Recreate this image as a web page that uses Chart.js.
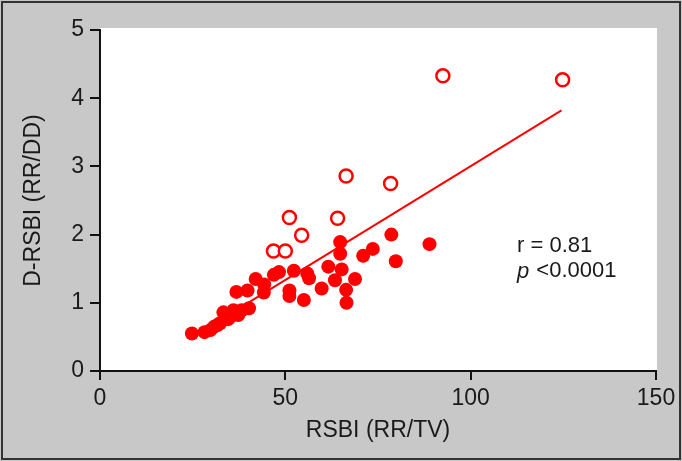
<!DOCTYPE html>
<html>
<head>
<meta charset="utf-8">
<script src="https://cdn.jsdelivr.net/npm/chart.js@4"></script>
<style>
html,body{margin:0;padding:0;background:#c8c8c8;}
#wrap{width:682px;height:461px;position:relative;}
</style>
</head>
<body>
<div id="wrap"><canvas id="c" width="682" height="461"></canvas></div>
<script>
// Filled points (RSBI, D-RSBI)
const filledX = [24.8,28.2,29.8,30.8,31.6,32.4,33.3,34.6,35.2,36.0,37.3,38.2,40.2,36.8,39.8,42.0,44.2,44.3,46.9,48.3,52.3,51.1,51.1,55.0,55.9,56.4,59.8,61.6,63.4,64.8,64.8,65.2,66.4,66.5,68.8,71.0,73.6,78.6,79.8,88.9];
const filledY = [0.55,0.57,0.60,0.65,0.67,0.70,0.86,0.76,0.80,0.89,0.82,0.89,0.92,1.16,1.18,1.35,1.15,1.27,1.41,1.45,1.47,1.18,1.10,1.04,1.43,1.36,1.21,1.53,1.33,1.89,1.72,1.49,1.19,1.00,1.35,1.69,1.79,2.00,1.61,1.86];
// Open points
const openX = [92.5,124.8,66.4,78.4,51.1,64.1,54.4,46.8,50.0];
const openY = [4.33,4.27,2.86,2.75,2.25,2.24,1.99,1.76,1.76];
// Regression line endpoints
const lineX = [25,124.5];
const lineY = [0.50,3.82];
const xTicks = [0,50,100,150];
const yTicks = [0,1,2,3,4,5];
const annotLines = ["r = 0.81", "<0.0001"];

const toPts = (xs, ys) => xs.map((x,i)=>({x:x, y:ys[i]}));
const FONT = "'Liberation Sans', Arial, sans-serif";
const RED = "#ff0000";

const bgPlugin = {
  id:'bg',
  beforeDraw(chart){
    const {ctx, chartArea:a} = chart;
    ctx.save();
    ctx.fillStyle = '#c8c8c8';
    ctx.fillRect(0,0,chart.width,chart.height);
    ctx.fillStyle = '#ffffff';
    ctx.fillRect(a.left, a.top-2, a.right-a.left+1, a.bottom-a.top+2);
    ctx.strokeStyle = '#333333';
    ctx.lineWidth = 2;
    ctx.strokeRect(2,2,chart.width-4,chart.height-4);
    ctx.restore();
  },
  afterDraw(chart){
    const {ctx} = chart;
    const xs = chart.scales.x, ys = chart.scales.y;
    const px = xs.getPixelForValue(112.5);
    ctx.save();
    ctx.fillStyle = '#1a1a1a';
    ctx.textBaseline = 'middle';
    ctx.textAlign = 'left';
    ctx.font = "22px " + FONT;
    ctx.fillText(annotLines[0], px, ys.getPixelForValue(1.83));
    ctx.font = "italic 22px " + FONT;
    ctx.fillText("p", px, ys.getPixelForValue(1.46));
    const w = ctx.measureText("p ").width;
    ctx.font = "22px " + FONT;
    ctx.fillText(annotLines[1], px + w + 1, ys.getPixelForValue(1.46));
    ctx.restore();
  }
};

new Chart(document.getElementById('c'), {
  type:'scatter',
  data:{
    datasets:[
      {data: toPts(lineX, lineY), type:'line', showLine:true, borderColor:RED, borderWidth:2, pointRadius:0, fill:false, order:3},
      {data: toPts(filledX, filledY), backgroundColor:RED, borderColor:RED, pointRadius:7, pointBorderWidth:0, order:1},
      {data: toPts(openX, openY), backgroundColor:'#ffffff', borderColor:RED, pointRadius:6.5, pointBorderWidth:2.5, order:2}
    ]
  },
  options:{
    responsive:false,
    animation:false,
    devicePixelRatio:1,
    layout:{padding:{left:0, right:26, top:30, bottom:0}},
    plugins:{legend:{display:false}, tooltip:{enabled:false}},
    scales:{
      x:{
        type:'linear', min:0, max:150,
        afterBuildTicks(s){ s.ticks = xTicks.map(v=>({value:v})); },
        afterFit(s){ s.height = 90; },
        grid:{display:true, drawOnChartArea:false, drawTicks:true, tickLength:9, color:'#111', lineWidth:2},
        border:{display:true, color:'#111', width:2},
        ticks:{color:'#1a1a1a', font:{family:FONT, size:23}, padding:5, maxRotation:0},
        title:{display:true, text:'RSBI (RR/TV)', color:'#1a1a1a', font:{family:FONT, size:23}, padding:{top:4, bottom:17}}
      },
      y:{
        type:'linear', min:0, max:5,
        afterBuildTicks(s){ s.ticks = yTicks.map(v=>({value:v})); },
        afterFit(s){ s.width = 100; },
        grid:{display:true, drawOnChartArea:false, drawTicks:true, tickLength:10, color:'#111', lineWidth:2},
        border:{display:true, color:'#111', width:2},
        ticks:{color:'#1a1a1a', font:{family:FONT, size:23}, padding:6},
        title:{display:true, text:'D-RSBI (RR/DD)', color:'#1a1a1a', font:{family:FONT, size:23}, padding:{top:20, bottom:0}}
      }
    }
  },
  plugins:[bgPlugin]
});
</script>
</body>
</html>
